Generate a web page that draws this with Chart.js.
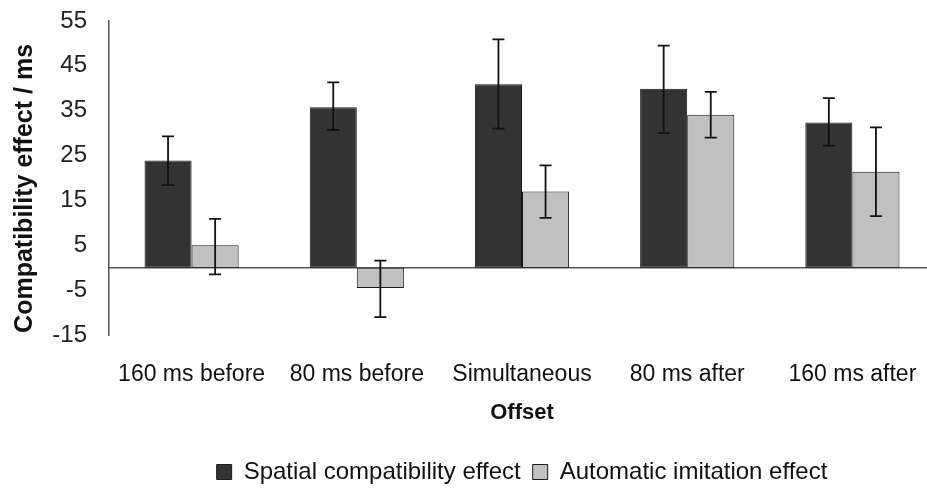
<!DOCTYPE html>
<html>
<head>
<meta charset="utf-8">
<script src="https://cdn.jsdelivr.net/npm/chart.js@4/dist/chart.umd.min.js"></script>
<style>
  html, body { margin: 0; padding: 0; overflow: hidden; background: #fff; }
  #wrap { width: 1000px; height: 494px; }
</style>
</head>
<body>
<div id="wrap"><canvas id="chart"></canvas></div>
<script>
// data
const offsets = ['160 ms before', '80 ms before', 'Simultaneous', '80 ms after', '160 ms after'];
const yTicks = [-15, -5, 5, 15, 25, 35, 45, 55];

const spatial = [23.9, 35.8, 40.9, 39.9, 32.4];
const spatialHigh = [29.3, 41.3, 50.9, 49.5, 37.8];
const spatialLow = [18.4, 30.7, 31.0, 30.0, 27.2];

const imitation = [5.0, -4.5, 17.0, 34.1, 21.4];
const imitationHigh = [10.9, 1.6, 22.8, 39.2, 31.3];
const imitationLow = [-1.5, -11.0, 11.1, 29.0, 11.5];

const FONT = "'Liberation Sans', Arial, sans-serif";
const INK = '#111';

// zero line (the x axis crosses at 0)
const zeroLine = {
    id: 'zeroLine',
    beforeDatasetsDraw(chart) {
        const {ctx, chartArea, scales} = chart;
        const y = scales.y.getPixelForValue(0);
        ctx.save();
        ctx.strokeStyle = '#555';
        ctx.lineWidth = 1.5;
        ctx.beginPath();
        ctx.moveTo(chartArea.left, y);
        ctx.lineTo(chartArea.right, y);
        ctx.stroke();
        ctx.restore();
    }
};

// error bars drawn through the y scale
const errorBars = {
    id: 'errorBars',
    afterDatasetsDraw(chart) {
        const {ctx, scales} = chart;
        chart.data.datasets.forEach((ds, di) => {
            const meta = chart.getDatasetMeta(di);
            meta.data.forEach((bar, i) => {
                const top = scales.y.getPixelForValue(ds.errHigh[i]);
                const bot = scales.y.getPixelForValue(ds.errLow[i]);
                const cap = 6;
                ctx.save();
                ctx.strokeStyle = INK;
                ctx.lineWidth = 1.8;
                ctx.beginPath();
                ctx.moveTo(bar.x, top);
                ctx.lineTo(bar.x, bot);
                ctx.moveTo(bar.x - cap, top);
                ctx.lineTo(bar.x + cap, top);
                ctx.moveTo(bar.x - cap, bot);
                ctx.lineTo(bar.x + cap, bot);
                ctx.stroke();
                ctx.restore();
            });
        });
    }
};

new Chart(document.getElementById('chart'), {
    type: 'bar',
    data: {
        labels: offsets,
        datasets: [
            {
                label: 'Spatial compatibility effect',
                data: spatial,
                errHigh: spatialHigh,
                errLow: spatialLow,
                backgroundColor: '#333333',
                borderColor: '#1a1a1a',
                borderWidth: 1,
                borderSkipped: false
            },
            {
                label: 'Automatic imitation effect',
                data: imitation,
                errHigh: imitationHigh,
                errLow: imitationLow,
                backgroundColor: '#c0c0c0',
                borderColor: '#1a1a1a',
                borderWidth: 1,
                borderSkipped: false
            }
        ]
    },
    options: {
        responsive: true,
        maintainAspectRatio: false,
        animation: false,
        categoryPercentage: 0.57,
        barPercentage: 1.0,
        layout: { padding: { top: 21, right: 65, bottom: 0, left: 0 } },
        plugins: {
            tooltip: { enabled: false },
            legend: {
                position: 'bottom',
                fullSize: false,
                labels: {
                    color: INK,
                    font: { family: FONT, size: 24 },
                    boxWidth: 15,
                    boxHeight: 15,
                    padding: 12
                }
            }
        },
        scales: {
            x: {
                grid: { display: false },
                border: { display: false },
                ticks: {
                    color: INK,
                    font: { family: FONT, size: 23 },
                    maxRotation: 0,
                    autoSkip: false,
                    padding: 18
                },
                title: {
                    display: true,
                    text: 'Offset',
                    color: INK,
                    font: { family: FONT, size: 22, weight: 'bold' },
                    padding: { top: -7, bottom: 22 }
                }
            },
            y: {
                min: -15,
                max: 55,
                afterBuildTicks: (scale) => {
                    scale.ticks = yTicks.map(v => ({ value: v }));
                },
                afterFit: (scale) => {
                    scale.width = 109;
                    scale.paddingTop = 0;
                    scale.paddingBottom = 0;
                },
                grid: { color: 'rgba(0,0,0,0)', drawTicks: false },
                border: { display: true, color: '#555', width: 1.5 },
                ticks: {
                    color: '#222',
                    font: { family: FONT, size: 24 },
                    padding: 22
                },
                title: {
                    display: true,
                    text: 'Compatibility effect / ms   ',
                    color: INK,
                    font: { family: FONT, size: 25, weight: 'bold' },
                    padding: { top: 10, bottom: 0 }
                }
            }
        }
    },
    plugins: [zeroLine, errorBars]
});
</script>
</body>
</html>
